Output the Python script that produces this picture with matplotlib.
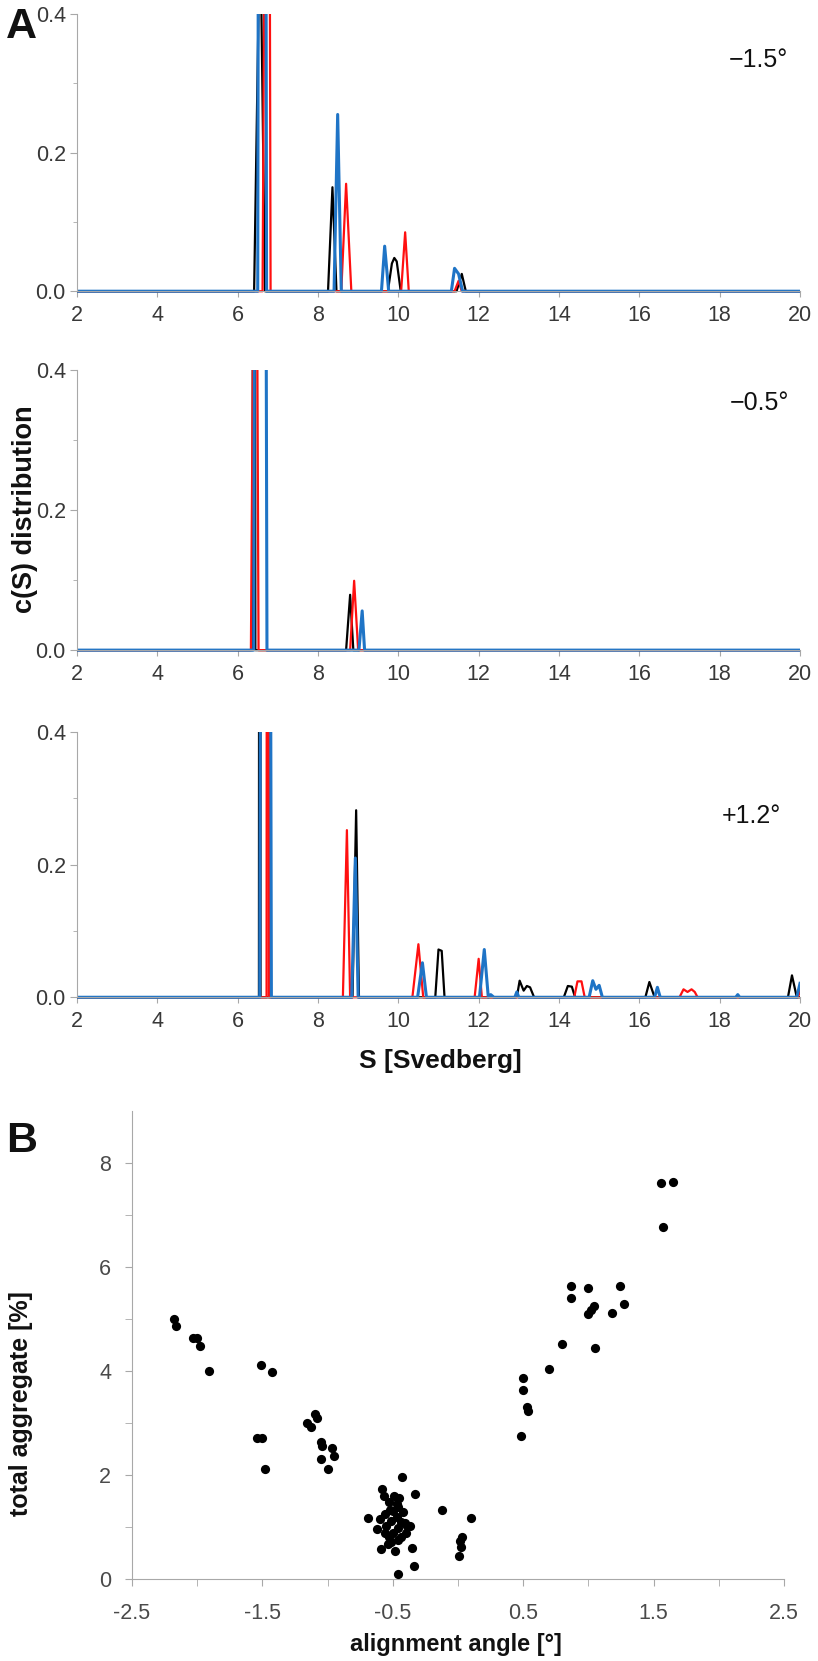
import matplotlib
matplotlib.use("Agg")
import matplotlib.pyplot as plt
from matplotlib.ticker import MultipleLocator, FixedLocator

plt.rcParams['font.family'] = ['Liberation Sans', 'DejaVu Sans']
plt.rcParams['axes.unicode_minus'] = False

# =====================================================
# DATA  (c(S) curves)
# =====================================================
# panel -1.5 deg
p1_black_s = [2, 6.41, 6.56, 6.68, 8.25, 8.36, 8.46, 9.74, 9.84, 9.90, 9.96, 10.06, 11.45, 11.58, 11.68, 20]
p1_black_c = [0, 0, 0.55, 0, 0, 0.150, 0, 0, 0.040, 0.048, 0.043, 0, 0, 0.025, 0, 0]
p1_red_s = [2, 6.62, 6.76, 6.82, 8.58, 8.70, 8.83, 10.07, 10.17, 10.26, 11.40, 11.50, 11.58, 20]
p1_red_c = [0, 0, 1.5, 0, 0, 0.155, 0, 0, 0.085, 0, 0, 0.015, 0, 0]
p1_blue_s = [2, 6.50, 6.61, 6.72, 8.40, 8.49, 8.58, 9.58, 9.66, 9.76, 11.32, 11.40, 11.50, 11.60, 20]
p1_blue_c = [0, 0, 4.0, 0, 0, 0.255, 0, 0, 0.065, 0, 0, 0.033, 0.025, 0, 0]

# panel -0.5 deg
p2_black_s = [2, 6.37, 6.41, 6.44, 8.70, 8.80, 8.88, 20]
p2_black_c = [0, 0, 3.0, 0, 0, 0.079, 0, 0]
p2_red_s = [2, 6.33, 6.45, 6.52, 8.80, 8.90, 9.00, 20]
p2_red_c = [0, 0, 1.0, 0, 0, 0.099, 0, 0]
p2_blue_s = [2, 6.40, 6.56, 6.73, 9.02, 9.10, 9.16, 20]
p2_blue_c = [0, 0, 4.0, 0, 0, 0.056, 0, 0]

# panel +1.2 deg
p3_black_s = [2, 6.53, 6.55, 6.57, 8.86, 8.95, 9.02, 10.92, 11.00, 11.08, 11.15,
              12.95, 13.02, 13.12, 13.20, 13.28, 13.38, 14.12, 14.22, 14.32, 14.40,
              16.15, 16.25, 16.38, 19.70, 19.80, 19.92, 20]
p3_black_c = [0, 0, 4.0, 0, 0, 0.282, 0, 0, 0.072, 0.070, 0,
              0, 0.025, 0.010, 0.017, 0.015, 0, 0, 0.017, 0.016, 0,
              0, 0.023, 0, 0, 0.033, 0, 0]
p3_red_s = [2, 6.72, 6.75, 6.78, 8.62, 8.72, 8.80, 10.35, 10.50, 10.62, 11.90, 12.00, 12.08,
            14.38, 14.46, 14.56, 14.64, 17.00, 17.10, 17.20, 17.30, 17.38, 17.45, 19.95, 20]
p3_red_c = [0, 0, 4.0, 0, 0, 0.252, 0, 0, 0.080, 0, 0, 0.058, 0,
            0, 0.024, 0.024, 0, 0, 0.012, 0.008, 0.012, 0.008, 0, 0, 0.010]
p3_blue_s = [2, 6.55, 6.69, 6.84, 8.84, 8.93, 9.00, 10.48, 10.60, 10.70, 12.02, 12.14, 12.24,
             12.30, 12.38, 12.90, 12.95, 13.00, 14.75, 14.84, 14.92, 15.00, 15.08,
             16.38, 16.45, 16.52, 18.40, 18.45, 18.50, 19.92, 20]
p3_blue_c = [0, 0, 4.0, 0, 0, 0.21, 0, 0, 0.052, 0, 0, 0.072, 0,
             0.004, 0, 0, 0.008, 0, 0, 0.025, 0.012, 0.018, 0,
             0, 0.015, 0, 0, 0.004, 0, 0, 0.021]

angle_labels = ["\u22121.5\u00b0", "\u22120.5\u00b0", "+1.2\u00b0"]

# panel B scatter
angle = [-2.18, -2.16, -2.03, -2.00, -1.98, -1.91, -1.51, -1.43, -1.54, -1.50, -1.48,
         -1.16, -1.13, -1.10, -1.08, -1.05, -1.04, -1.05, -1.00, -0.97, -0.95,
         -0.69, -0.62, -0.59, -0.58, -0.57, -0.56, -0.55, -0.54, -0.53, -0.52, -0.51,
         -0.50, -0.49, -0.48, -0.47, -0.46, -0.46, -0.46, -0.45, -0.44, -0.43, -0.42,
         -0.41, -0.40, -0.39, -0.37, -0.35, -0.34, -0.33, -0.60, -0.56, -0.53, -0.51,
         -0.50, -0.47, -0.44, -0.46,
         -0.12, 0.01, 0.02, 0.03, 0.015, 0.10,
         0.48, 0.50, 0.50, 0.53, 0.54, 0.70, 0.80, 0.87, 0.87, 1.00, 1.00, 1.02, 1.04,
         1.05, 1.18, 1.24, 1.27, 1.56, 1.65, 1.57]
aggregate = [5.00, 4.86, 4.64, 4.64, 4.48, 4.00, 4.12, 3.97, 2.71, 2.71, 2.11,
             3.00, 2.92, 3.18, 3.10, 2.64, 2.56, 2.31, 2.11, 2.52, 2.37,
             1.18, 0.96, 0.58, 1.73, 1.60, 1.24, 1.02, 0.67, 1.47, 1.33, 1.11,
             0.89, 1.60, 0.53, 1.20, 0.98, 0.09, 1.38, 1.56, 0.80, 1.96, 1.29,
             1.07, 0.89, 1.02, 1.02, 0.60, 0.25, 1.63, 1.16, 0.89, 0.80, 0.71,
             1.30, 1.45, 1.10, 0.75,
             1.33, 0.44, 0.62, 0.80, 0.73, 1.17,
             2.74, 3.87, 3.64, 3.31, 3.23, 4.04, 4.51, 5.64, 5.40, 5.60, 5.09, 5.18, 5.24,
             4.44, 5.11, 5.64, 5.29, 7.62, 7.64, 6.76]

# =====================================================
# STYLE
# =====================================================
BLACK = "#000000"
RED = "#ff1010"
BLUE = "#1f74c6"
AXIS_GRAY = "#a8a8a8"
TICK_TXT = "#383838"
BOLD = dict(fontweight="bold", color="#111111")

fig = plt.figure(figsize=(8.18, 16.61), dpi=100)

rects = [
    [0.0941, 0.8230, 0.8839, 0.1686],
    [0.0941, 0.6069, 0.8839, 0.1704],
    [0.0941, 0.3980, 0.8839, 0.1613],
]
curves = [
    (p1_black_s, p1_black_c, p1_red_s, p1_red_c, p1_blue_s, p1_blue_c),
    (p2_black_s, p2_black_c, p2_red_s, p2_red_c, p2_blue_s, p2_blue_c),
    (p3_black_s, p3_black_c, p3_red_s, p3_red_c, p3_blue_s, p3_blue_c),
]
label_pos = [(0.927, 0.9639), (0.928, 0.7574), (0.919, 0.5087)]

# -----------------------------------------
# Panel A: three c(S) distributions
# -----------------------------------------
for rect, cv, lab, lp in zip(rects, curves, angle_labels, label_pos):
    ax = fig.add_axes(rect)
    bs, bc, rs, rc, us, uc = cv
    ax.plot(bs, bc, color=BLACK, lw=1.6)
    ax.plot(rs, rc, color=RED, lw=1.6)
    ax.plot(us, uc, color=BLUE, lw=2.2)
    ax.set_xlim(2, 20)
    ax.set_ylim(-0.004, 0.4)
    for s in ["top", "right"]:
        ax.spines[s].set_visible(False)
    ax.spines["left"].set_color(AXIS_GRAY)
    ax.spines["left"].set_bounds(0, 0.4)
    ax.spines["bottom"].set_color(AXIS_GRAY)
    ax.spines["bottom"].set_position(("data", 0))
    ax.xaxis.set_major_locator(MultipleLocator(2))
    ax.yaxis.set_major_locator(FixedLocator([0.0, 0.2, 0.4]))
    ax.yaxis.set_minor_locator(FixedLocator([0.1, 0.3]))
    ax.yaxis.set_major_formatter(plt.FuncFormatter(lambda v, p: f"{v:.1f}"))
    ax.tick_params(axis="both", which="both", direction="out", color=AXIS_GRAY,
                   labelcolor=TICK_TXT, labelsize=15.5)
    ax.tick_params(axis="x", length=4, pad=6)
    ax.tick_params(axis="y", which="major", length=5, pad=3)
    ax.tick_params(axis="y", which="minor", length=3)
    fig.text(lp[0], lp[1], lab, ha="center", va="center", fontsize=18, color="#111111")

fig.text(0.026, 0.9840, "A", ha="center", va="center", fontsize=31, **BOLD)
fig.text(0.030, 0.6936, "c(S) distribution", rotation=90, ha="center", va="center",
         fontsize=19.5, **BOLD)
fig.text(0.538, 0.3612, "S [Svedberg]", ha="center", va="center", fontsize=19, **BOLD)

# -----------------------------------------
# Panel B: total aggregate vs alignment angle
# -----------------------------------------
axb = fig.add_axes([0.1614, 0.0494, 0.7970, 0.2818])
axb.scatter(angle, aggregate, s=44, color="black", linewidths=0, zorder=3)
axb.set_xlim(-2.5, 2.5)
axb.set_ylim(0, 9)
for s in ["top", "right"]:
    axb.spines[s].set_visible(False)
axb.spines["left"].set_color(AXIS_GRAY)
axb.spines["bottom"].set_color(AXIS_GRAY)
axb.xaxis.set_major_locator(FixedLocator([-2.5, -1.5, -0.5, 0.5, 1.5, 2.5]))
axb.xaxis.set_minor_locator(FixedLocator([-2, -1, 0, 1, 2]))
axb.yaxis.set_major_locator(FixedLocator([0, 2, 4, 6, 8]))
axb.yaxis.set_minor_locator(FixedLocator([1, 3, 5, 7]))
axb.tick_params(axis="both", which="both", direction="out", color=AXIS_GRAY,
                labelcolor="#4a4a4a", labelsize=15.5, length=5)
axb.tick_params(axis="x", which="major", pad=12)
axb.tick_params(axis="y", which="major", pad=10)

fig.text(0.026, 0.3130, "B", ha="center", va="center", fontsize=31, **BOLD)
fig.text(0.026, 0.1550, "total aggregate [%]", rotation=90, ha="center", va="center",
         fontsize=18, **BOLD)
fig.text(0.557, 0.0102, "alignment angle [\u00b0]", ha="center", va="center",
         fontsize=17, **BOLD)

fig.savefig("out.png", dpi=100)
